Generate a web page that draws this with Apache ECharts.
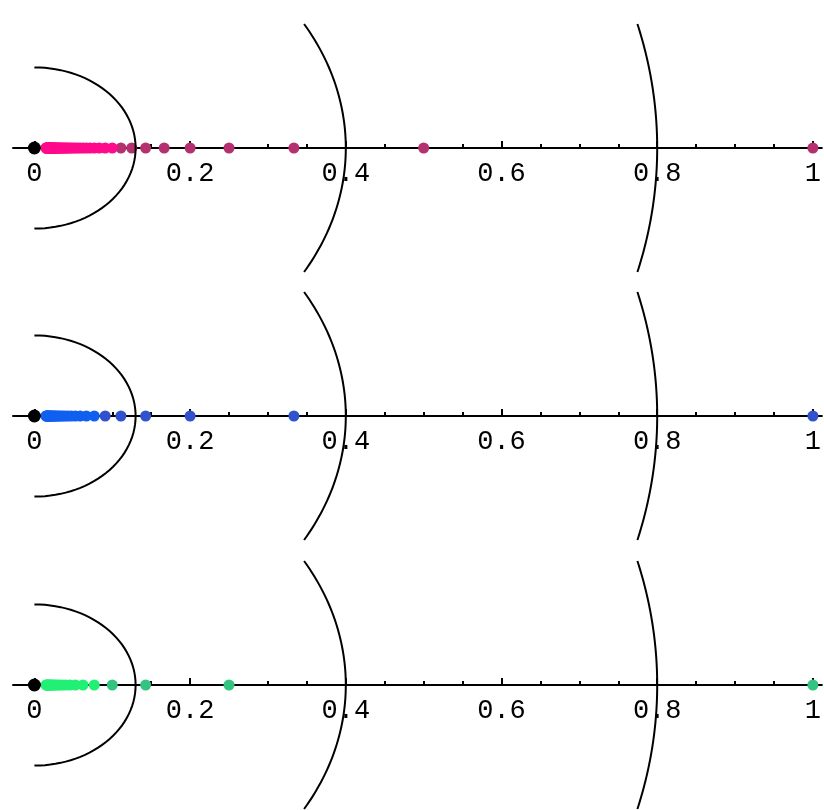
<!DOCTYPE html>
<html>
<head>
<meta charset="utf-8">
<script src="https://cdn.jsdelivr.net/npm/echarts@6/dist/echarts.min.js"></script>
<style>
html,body{margin:0;padding:0;background:#fff}
#container{width:824px;height:810px}
</style>
</head>
<body>
<div id="container"></div>
<script>
// 1/n
var pinkPoints = [1, 0.5, 0.3333, 0.25, 0.2, 0.1667, 0.1429, 0.125, 0.1111, 0.1,
    0.0909, 0.0833, 0.0769, 0.0714, 0.0667, 0.0625, 0.0588, 0.0556, 0.0526, 0.05,
    0.0476, 0.0455, 0.0435, 0.0417, 0.04, 0.0385, 0.037, 0.0357, 0.0345, 0.0333,
    0.0323, 0.0313, 0.0303, 0.0294, 0.0286, 0.0278, 0.027, 0.0263, 0.0256, 0.025,
    0.0244, 0.0238, 0.0233, 0.0227, 0.0222, 0.0217, 0.0213, 0.0208, 0.0204, 0.02,
    0.0196, 0.0192, 0.0189, 0.0185, 0.0182, 0.0179, 0.0175, 0.0172, 0.0169, 0.0167,
    0.0164, 0.0161, 0.0159, 0.0156, 0.0154, 0.0152, 0.0149];
// 1/(2k+1)
var bluePoints = [1, 0.3333, 0.2, 0.1429, 0.1111, 0.0909, 0.0769, 0.0667, 0.0588, 0.0526,
    0.0476, 0.0435, 0.04, 0.037, 0.0345, 0.0323, 0.0303, 0.0286, 0.027, 0.0256,
    0.0244, 0.0233, 0.0222, 0.0213, 0.0204, 0.0196, 0.0189, 0.0182, 0.0175, 0.0169,
    0.0164, 0.0159, 0.0154, 0.0149];
// 1/(3k+1)
var greenPoints = [1, 0.25, 0.1429, 0.1, 0.0769, 0.0625, 0.0526, 0.0455, 0.04, 0.0357,
    0.0323, 0.0294, 0.027, 0.025, 0.0233, 0.0217, 0.0204, 0.0192, 0.0182, 0.0172,
    0.0164, 0.0156, 0.0149];
var originPoint = [0];
var arcRadii = [0.13, 0.4, 0.8];
var tickLabels = [0, 0.2, 0.4, 0.6, 0.8, 1];
var majorTicks = [0, 0.2, 0.4, 0.6, 0.8, 1];
var minorTicks = [0.05, 0.1, 0.15, 0.25, 0.3, 0.35, 0.45, 0.5, 0.55, 0.65, 0.7, 0.75, 0.85, 0.9, 0.95];

var halfHeight = 0.2;

var panels = [
    {top: 24,  points: pinkPoints,  bar: '#ff0a8c', dot: '#b4306e', split: 0.105},
    {top: 292, points: bluePoints,  bar: '#1060f0', dot: '#3052cc', split: 0.085},
    {top: 561, points: greenPoints, bar: '#22f074', dot: '#34c482', split: 0.09}
];

function renderArc(params, api) {
    var r = api.value(0);
    var tMax = r > halfHeight ? Math.asin(halfHeight / r) : Math.PI / 2;
    var pts = [];
    for (var k = 0; k <= 60; k++) {
        var t = -tMax + 2 * tMax * k / 60;
        pts.push(api.coord([r * Math.cos(t), r * Math.sin(t)]));
    }
    return {
        type: 'polyline',
        shape: {points: pts},
        style: {stroke: '#000', lineWidth: 2, fill: null}
    };
}

var grid = [], xAxis = [], yAxis = [], series = [];

for (var i = 0; i < panels.length; i++) {
    var p = panels[i];
    grid.push({left: 13, right: 0, top: p.top, height: 248});
    yAxis.push({type: 'value', gridIndex: i, min: -halfHeight, max: halfHeight, show: false});
    //主轴：轴线、长刻度、标签
    xAxis.push({
        type: 'value', gridIndex: i, min: -0.0275, max: 1.0115,
        position: 'bottom', offset: -124,
        axisLine: {onZero: false, lineStyle: {color: '#000', width: 2}},
        axisTick: {inside: true, length: 7, customValues: majorTicks, lineStyle: {color: '#000', width: 2}},
        axisLabel: {
            customValues: tickLabels, margin: 12, color: '#000',
            fontFamily: 'Liberation Mono', fontSize: 27
        },
        splitLine: {show: false}
    });
    //短刻度
    xAxis.push({
        type: 'value', gridIndex: i, min: -0.0275, max: 1.0115,
        position: 'bottom', offset: -124,
        axisLine: {show: false, onZero: false},
        axisTick: {inside: true, length: 4, customValues: minorTicks, lineStyle: {color: '#000', width: 2}},
        axisLabel: {show: false},
        splitLine: {show: false}
    });

    (function (p) {
        series.push({
            type: 'scatter', xAxisIndex: 2 * i, yAxisIndex: i,
            data: p.points.map(function (v) { return [v, 0]; }),
            symbolSize: 11, clip: false, z: 3,
            itemStyle: {
                opacity: 1,
                color: function (d) { return d.value[0] > p.split ? p.dot : p.bar; }
            }
        });
    })(p);

    series.push({
        type: 'scatter', xAxisIndex: 2 * i, yAxisIndex: i,
        data: originPoint.map(function (v) { return [v, 0]; }),
        symbolSize: 13, clip: false, z: 4,
        itemStyle: {color: '#000', opacity: 1}
    });

    series.push({
        type: 'custom', xAxisIndex: 2 * i, yAxisIndex: i,
        data: arcRadii.map(function (r) { return [r, 0]; }),
        encode: {x: 0, y: 1},
        renderItem: renderArc, clip: false, z: 5
    });
}

var myChart = echarts.init(document.getElementById('container'));
var option = {
    animation: false,
    backgroundColor: '#fff',
    grid: grid,
    xAxis: xAxis,
    yAxis: yAxis,
    series: series
};
myChart.setOption(option);
</script>
</body>
</html>
